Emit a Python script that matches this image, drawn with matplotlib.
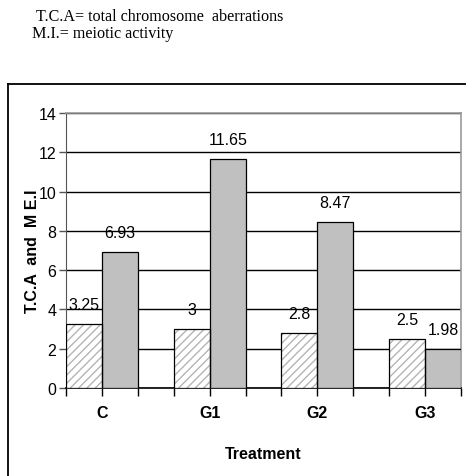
import numpy as np
import matplotlib
matplotlib.use("Agg")
import matplotlib.pyplot as plt
from matplotlib.lines import Line2D

# data
groups = ["C", "G1", "G2", "G3"]
tca = [3.25, 3, 2.8, 2.5]
mi = [6.93, 11.65, 8.47, 1.98]
tca_labels = ["3.25", "3", "2.8", "2.5"]
mi_labels = ["6.93", "11.65", "8.47", "1.98"]
yticks = [0, 2, 4, 6, 8, 10, 12, 14]

W, H = 466, 477
sans = ["Liberation Sans", "DejaVu Sans"]

plt.rcParams['hatch.linewidth'] = 1.0

fig = plt.figure(figsize=(W / 100, H / 100), dpi=100)

# notes on top
fig.text(36 / W, 1 - 17 / H, "T.C.A= total chromosome  aberrations",
         family="Liberation Serif", fontsize=11.6, va="center", ha="left")
fig.text(32 / W, 1 - 34 / H, "M.I.= meiotic activity",
         family="Liberation Serif", fontsize=11.6, va="center", ha="left")

# outer chart frame (left and top edges)
fig.add_artist(Line2D([8 / W, 8 / W], [0, 1 - 85 / H], color="black", lw=1.3))
fig.add_artist(Line2D([8 / W, 1], [1 - 85 / H, 1 - 85 / H], color="black", lw=1.3))

ax = fig.add_axes([66 / W, 1 - 389 / H, 395 / W, 275 / H])

w = 0.3355
x = np.arange(len(groups))
# hatched bars: light gray hatch, then black outline on top
ax.bar(x - w / 2, tca, width=w, color="white", edgecolor="#b4b4b4",
       hatch="////", linewidth=0, zorder=3)
ax.bar(x - w / 2, tca, width=w, fill=False, edgecolor="black",
       linewidth=0.9, zorder=4)
ax.bar(x + w / 2, mi, width=w, color="#c0c0c0", edgecolor="black",
       linewidth=0.9, zorder=3)

for xi, v, lab in zip(x - w / 2, tca, tca_labels):
    ax.annotate(lab, (xi, v), xytext=(0, 14), textcoords="offset points",
                ha="center", va="center", fontsize=11.5, family=sans)
for xi, v, lab in zip(x + w / 2, mi, mi_labels):
    ax.annotate(lab, (xi, v), xytext=(0, 14), textcoords="offset points",
                ha="center", va="center", fontsize=11.5, family=sans)

ax.set_xlim(-w, len(groups) - 1 + w)
ax.set_ylim(0, 14)
ax.set_yticks(yticks)
ax.set_yticklabels([str(t) for t in yticks], family=sans, fontsize=11.5)
ax.yaxis.grid(True, color="black", lw=1.0, zorder=0)
ax.set_axisbelow(True)

ax.set_xticks(x)
ax.set_xticklabels(groups, family=sans, fontsize=11.5, fontweight="bold")
ax.set_xticks(np.concatenate([x - w, x + w]), minor=True)
ax.tick_params(axis="x", which="both", length=6, width=1, color="black", pad=6)
ax.tick_params(axis="y", length=5, width=1, color="#555555", pad=2)

for s in ["top", "right"]:
    ax.spines[s].set_color("#999999")
    ax.spines[s].set_linewidth(1.2)
ax.spines["left"].set_color("#555555")
ax.spines["bottom"].set_color("black")
ax.spines["bottom"].set_linewidth(1.2)

ax.set_ylabel("T.C.A  and  M E.I", family=sans, fontsize=11.5,
              fontweight="bold", labelpad=-1)
ax.set_xlabel("Treatment", family=sans, fontsize=11.5, fontweight="bold",
              labelpad=19)

fig.savefig("out.png", dpi=100)
